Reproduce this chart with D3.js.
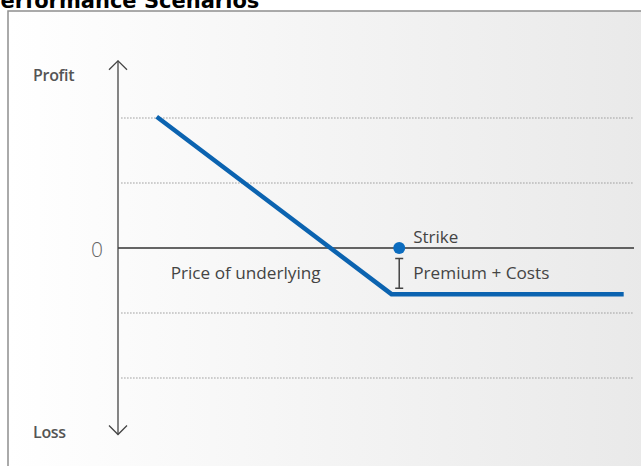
<!DOCTYPE html>
<html>
<head>
<meta charset="utf-8">
<script src="https://cdn.jsdelivr.net/npm/d3@7"></script>
<style>
  body { margin: 0; background: #fff; overflow: hidden; }
  svg text { font-family: "Open Sans", "Noto Sans", sans-serif; }
</style>
</head>
<body>
<div id="chart"></div>
<script>
var width = 641, height = 466;

// payoff of the position (price of underlying -> profit)
var prices = [7.5, 53, 98];
var profits = [2.02, -0.71, -0.71];
var gridLevels = [-2, -1, 1, 2];
var strikePrice = 54.5;
var premiumRange = [-0.16, -0.62];
var axisLabels = ["Profit", "Loss"];

var svg = d3.select("#chart").append("svg")
    .attr("width", width).attr("height", height);

var grad = svg.append("defs").append("linearGradient")
    .attr("id", "bg").attr("x1", "0").attr("x2", "1").attr("y1", "0").attr("y2", "0");
grad.append("stop").attr("offset", "0").attr("stop-color", "#ffffff");
grad.append("stop").attr("offset", "1").attr("stop-color", "#e7e7e7");

// panel
svg.append("rect")
    .attr("x", 8).attr("y", 11)
    .attr("width", 700).attr("height", 500)
    .attr("fill", "url(#bg)")
    .attr("stroke", "#8f8f8f")
    .attr("stroke-width", 1.5);

svg.append("text")
    .attr("x", -15).attr("y", 8)
    .style("font-family", "'DejaVu Sans', Verdana, sans-serif")
    .style("font-weight", "bold")
    .style("font-size", "21px")
    .attr("fill", "#000")
    .text("Performance Scenarios");

var x = d3.scaleLinear().domain([0, 100]).range([118, 634]);
var y = d3.scaleLinear().domain([-2, 2]).range([378, 118]);

// dotted grid
svg.selectAll(".grid").data(gridLevels).enter().append("line")
    .attr("class", "grid")
    .attr("x1", x(0.6)).attr("x2", x(100))
    .attr("y1", function(d) { return y(d); })
    .attr("y2", function(d) { return y(d); })
    .attr("stroke", "#9a9a9a")
    .attr("stroke-width", 1)
    .attr("stroke-dasharray", "1.5,1.5");

// zero line
svg.append("line")
    .attr("x1", x(0)).attr("x2", x(100))
    .attr("y1", y(0)).attr("y2", y(0))
    .attr("stroke", "#333").attr("stroke-width", 1.5);

// vertical axis with arrows
var yTop = y(2.88), yBot = y(-2.87);
svg.append("line")
    .attr("x1", x(0)).attr("x2", x(0))
    .attr("y1", yTop).attr("y2", yBot)
    .attr("stroke", "#444").attr("stroke-width", 1.3);
svg.append("path")
    .attr("d", "M" + (x(0) - 9) + "," + (yTop + 9) + "L" + x(0) + "," + yTop + "L" + (x(0) + 9) + "," + (yTop + 9))
    .attr("fill", "none").attr("stroke", "#444").attr("stroke-width", 1.3);
svg.append("path")
    .attr("d", "M" + (x(0) - 9) + "," + (yBot - 9) + "L" + x(0) + "," + yBot + "L" + (x(0) + 9) + "," + (yBot - 9))
    .attr("fill", "none").attr("stroke", "#444").attr("stroke-width", 1.3);

// axis labels
svg.selectAll(".axlab").data(axisLabels).enter().append("text")
    .attr("class", "axlab")
    .attr("x", 33)
    .attr("y", function(d, i) { return i == 0 ? y(2.57) : y(-2.92); })
    .style("font-size", "16px")
    .style("font-weight", "600")
    .style("letter-spacing", "-0.3px")
    .attr("fill", "#555")
    .text(function(d) { return d; });

svg.append("text")
    .attr("x", 97).attr("y", y(0) + 9)
    .attr("text-anchor", "middle")
    .style("font-size", "21px")
    .style("font-weight", "300")
    .attr("fill", "#666")
    .text("0");

svg.append("text")
    .attr("x", x(10.2)).attr("y", y(-0.48))
    .style("font-size", "17.2px")
    .attr("fill", "#444")
    .text("Price of underlying");

// payoff line
var line = d3.line()
    .x(function(d, i) { return x(prices[i]); })
    .y(function(d) { return y(d); });
svg.append("path")
    .datum(profits)
    .attr("d", line)
    .attr("fill", "none")
    .attr("stroke", "#0b63b0")
    .attr("stroke-width", 4.5);

// premium bar
var bx = x(strikePrice);
svg.append("path")
    .attr("d", "M" + bx + "," + y(premiumRange[0]) + "V" + y(premiumRange[1]) +
      "M" + (bx - 4) + "," + y(premiumRange[0]) + "H" + (bx + 4) +
      "M" + (bx - 4) + "," + y(premiumRange[1]) + "H" + (bx + 4))
    .attr("fill", "none").attr("stroke", "#444").attr("stroke-width", 1.5);

// strike
svg.append("circle")
    .attr("cx", bx).attr("cy", y(0))
    .attr("r", 6)
    .attr("fill", "#0b6cbf");

svg.append("text")
    .attr("x", bx + 14).attr("y", y(0) - 5)
    .style("font-size", "17px")
    .attr("fill", "#444")
    .text("Strike");

svg.append("text")
    .attr("x", bx + 14).attr("y", y(-0.48))
    .style("font-size", "17.2px")
    .attr("fill", "#444")
    .text("Premium + Costs");
</script>
</body>
</html>
